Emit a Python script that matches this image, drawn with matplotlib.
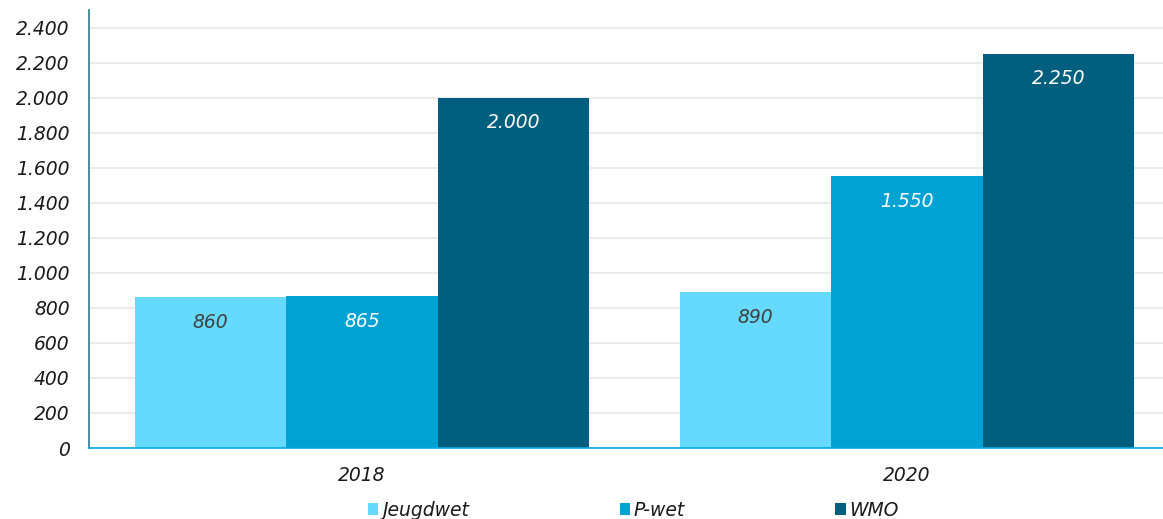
import matplotlib
matplotlib.use("Agg")
import matplotlib.pyplot as plt
from matplotlib.patches import Patch
import numpy as np

categories = ["2018", "2020"]
series_names = ["Jeugdwet", "P-wet", "WMO"]
values = {
    "Jeugdwet": [860, 890],
    "P-wet": [865, 1550],
    "WMO": [2000, 2250],
}
colors = ["#66D9FF", "#00A2D3", "#005F7F"]
label_colors = ["#404040", "white", "white"]

def fmt(v):
    return f"{v:,.0f}".replace(",", ".")

plt.rcParams['font.family'] = ['DejaVu Sans']
fs = 13.5

fig = plt.figure(figsize=(11.63, 5.19), dpi=100)
ax = fig.add_axes([89/1163, 71/519, 1 - 89/1163, (448-10)/519])

x = np.arange(len(categories))
w = 0.278
for i, name in enumerate(series_names):
    xs = x + (i - 1) * w
    bars = ax.bar(xs, values[name], width=w, color=colors[i], zorder=2)
    for b, v in zip(bars, values[name]):
        ax.annotate(fmt(v), (b.get_x() + b.get_width()/2, v),
                    xytext=(0, -18), textcoords="offset points",
                    ha="center", va="center", fontsize=fs, style="italic",
                    color=label_colors[i], zorder=3)

ax.set_ylim(0, 2500)
ax.set_xlim(-0.501, 1.47)
ax.set_yticks(np.arange(0, 2401, 200))
ax.set_yticklabels([fmt(t) for t in np.arange(0, 2401, 200)], fontsize=fs, style="italic", color="#1a1a1a")
ax.set_xticks(x)
ax.set_xticklabels(categories, fontsize=fs, style="italic", color="#1a1a1a")
ax.tick_params(axis="y", length=0, pad=14)
ax.tick_params(axis="x", length=0, pad=13)
ax.yaxis.grid(True, color="#E5E5E5", linewidth=1.1, zorder=0)
ax.set_axisbelow(True)
for s in ["top", "right"]:
    ax.spines[s].set_visible(False)
ax.spines["left"].set_color("#2C7A94")
ax.spines["left"].set_linewidth(1.2)
ax.spines["bottom"].set_color("#00A8E0")
ax.spines["bottom"].set_linewidth(1.2)

handles = [Patch(facecolor=c) for c in colors]
leg = fig.legend(handles, series_names, loc="center left",
                 bbox_to_anchor=(368/1163, 9/519), ncol=3, frameon=False,
                 prop={"size": fs, "style": "italic"},
                 handlelength=0.55, handleheight=0.55, handletextpad=0.18,
                 columnspacing=8.05, borderpad=0, borderaxespad=0)
for t in leg.get_texts():
    t.set_color("#1a1a1a")

fig.savefig("out.png", dpi=100)
